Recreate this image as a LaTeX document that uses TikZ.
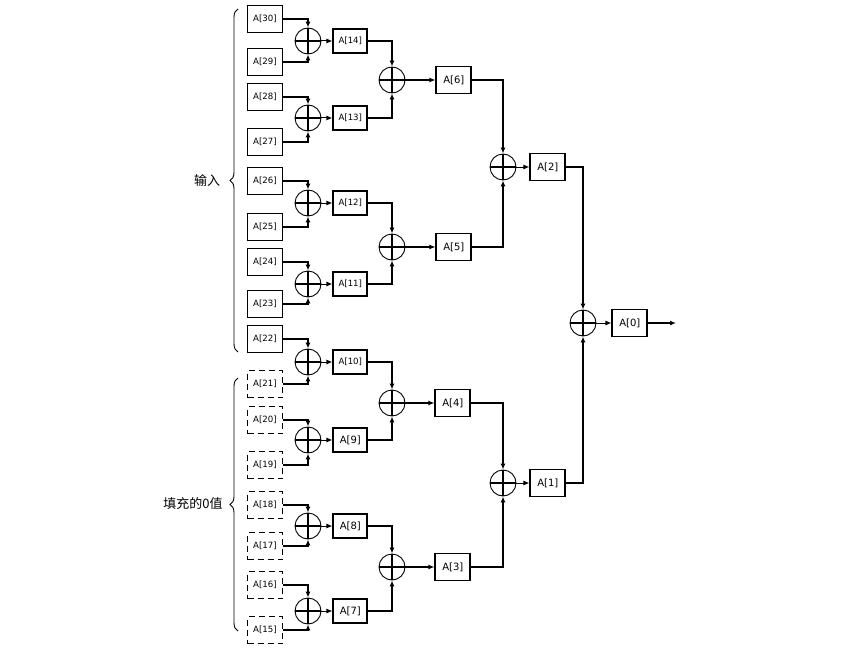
\documentclass[tikz,border=0pt]{standalone}
\usepackage{fontspec}
\setmainfont{DejaVu Sans}
\newfontfamily\cjk{Noto Sans CJK SC}
\usetikzlibrary{positioning,arrows.meta,decorations.pathreplacing}

\tikzset{
  box/.style={draw, line width=1.7pt, minimum width=35pt, minimum height=27pt, inner sep=0pt, font=\fontsize{8.6}{10}\selectfont},
  zerobox/.style={box, dash pattern=on 6pt off 4pt},
  midbox/.style={box, minimum width=34pt, minimum height=24pt},
  bigbox/.style={box, font=\fontsize{10}{12}\selectfont},
  midbigbox/.style={midbox, font=\fontsize{10}{12}\selectfont},
  adder/.style={circle, draw, line width=0.9pt, minimum size=26pt, inner sep=0pt,
    path picture={\draw[line width=1.4pt] (path picture bounding box.north) -- (path picture bounding box.south)
      (path picture bounding box.west) -- (path picture bounding box.east);}},
  conn/.style={line width=1.6pt, -{Latex[length=6pt,width=5pt]}},
  thinconn/.style={line width=1pt, -{Latex[length=6pt,width=5pt]}},
  brc/.style={decorate, decoration={brace, amplitude=8pt}, line width=0.9pt},
  lbl/.style={font=\cjk\fontsize{13}{15}\selectfont}
}

\begin{document}
\begin{tikzpicture}[x=1pt, y=-1pt]
  \useasboundingbox (0,0) rectangle (864,658);

  % Input boxes
  \node[box] (a30) at (265,19) {A[30]};
  \node[box] (a29) at (265,62) {A[29]};
  \node[box] (a28) at (265,97) {A[28]};
  \node[box] (a27) at (265,142) {A[27]};
  \node[box] (a26) at (265,181) {A[26]};
  \node[box] (a25) at (265,227) {A[25]};
  \node[box] (a24) at (265,262) {A[24]};
  \node[box] (a23) at (265,304) {A[23]};
  \node[box] (a22) at (265,339) {A[22]};

  % Padding boxes (zero values)
  \node[zerobox] (a21) at (265,384) {A[21]};
  \node[zerobox] (a20) at (265,420) {A[20]};
  \node[zerobox] (a19) at (265,465) {A[19]};
  \node[zerobox] (a18) at (265,505) {A[18]};
  \node[zerobox] (a17) at (265,546) {A[17]};
  \node[zerobox] (a16) at (265,585) {A[16]};
  \node[zerobox] (a15) at (265,630) {A[15]};

  % First level of adders
  \node[adder] (s14) at (308,41) {};
  \node[adder] (s13) at (308,118) {};
  \node[adder] (s12) at (308,203) {};
  \node[adder] (s11) at (308,284) {};
  \node[adder] (s10) at (308,362) {};
  \node[adder] (s9) at (308,440) {};
  \node[adder] (s8) at (308,526) {};
  \node[adder] (s7) at (308,611) {};

  \node[midbox, right=11pt of s14] (a14) {A[14]};
  \node[midbox, right=11pt of s13] (a13) {A[13]};
  \node[midbox, right=11pt of s12] (a12) {A[12]};
  \node[midbox, right=11pt of s11] (a11) {A[11]};
  \node[midbox, right=11pt of s10] (a10) {A[10]};
  \node[midbigbox, right=11pt of s9] (a9) {A[9]};
  \node[midbigbox, right=11pt of s8] (a8) {A[8]};
  \node[midbigbox, right=11pt of s7] (a7) {A[7]};

  % Second level of adders
  \node[adder] (s6) at (392,80) {};
  \node[adder] (s5) at (392,247) {};
  \node[adder] (s4) at (392,403) {};
  \node[adder] (s3) at (392,567) {};

  \node[bigbox, right=30pt of s6] (a6) {A[6]};
  \node[bigbox, right=30pt of s5] (a5) {A[5]};
  \node[bigbox, right=29pt of s4] (a4) {A[4]};
  \node[bigbox, right=29pt of s3] (a3) {A[3]};

  % Third and last level
  \node[adder] (s2) at (503,167) {};
  \node[adder] (s1) at (503,483) {};
  \node[bigbox, right=13pt of s2] (a2) {A[2]};
  \node[bigbox, right=13pt of s1] (a1) {A[1]};

  \node[adder] (s0) at (583,323) {};
  \node[bigbox, right=15pt of s0] (a0) {A[0]};
  \coordinate (out) at (676,323);

  % Inputs into the first adders
  \draw[conn] (a30.east) -| (s14.north);
  \draw[conn] (a29.east) -| (s14.south);
  \draw[conn] (a28.east) -| (s13.north);
  \draw[conn] (a27.east) -| (s13.south);
  \draw[conn] (a26.east) -| (s12.north);
  \draw[conn] (a25.east) -| (s12.south);
  \draw[conn] (a24.east) -| (s11.north);
  \draw[conn] (a23.east) -| (s11.south);
  \draw[conn] (a22.east) -| (s10.north);
  \draw[conn] (a21.east) -| (s10.south);
  \draw[conn] (a20.east) -| (s9.north);
  \draw[conn] (a19.east) -| (s9.south);
  \draw[conn] (a18.east) -| (s8.north);
  \draw[conn] (a17.east) -| (s8.south);
  \draw[conn] (a16.east) -| (s7.north);
  \draw[conn] (a15.east) -| (s7.south);

  \draw[thinconn] (s14) -- (a14);
  \draw[thinconn] (s13) -- (a13);
  \draw[thinconn] (s12) -- (a12);
  \draw[thinconn] (s11) -- (a11);
  \draw[thinconn] (s10) -- (a10);
  \draw[thinconn] (s9) -- (a9);
  \draw[thinconn] (s8) -- (a8);
  \draw[thinconn] (s7) -- (a7);

  % Second level
  \draw[conn] (a14.east) -| (s6.north);
  \draw[conn] (a13.east) -| (s6.south);
  \draw[conn] (a12.east) -| (s5.north);
  \draw[conn] (a11.east) -| (s5.south);
  \draw[conn] (a10.east) -| (s4.north);
  \draw[conn] (a9.east) -| (s4.south);
  \draw[conn] (a8.east) -| (s3.north);
  \draw[conn] (a7.east) -| (s3.south);

  \draw[conn] (s6) -- (a6);
  \draw[conn] (s5) -- (a5);
  \draw[conn] (s4) -- (a4);
  \draw[conn] (s3) -- (a3);

  % Third level
  \draw[conn] (a6.east) -| (s2.north);
  \draw[conn] (a5.east) -| (s2.south);
  \draw[conn] (a4.east) -| (s1.north);
  \draw[conn] (a3.east) -| (s1.south);
  \draw[thinconn] (s2) -- (a2);
  \draw[thinconn] (s1) -- (a1);

  % Final sum
  \draw[conn] (a2.east) -| (s0.north);
  \draw[conn] (a1.east) -| (s0.south);
  \draw[thinconn] (s0) -- (a0);
  \draw[conn] (a0) -- (out);

  % Braces and their labels
  \draw[brc] (238,352) -- (238,9);
  \draw[brc] (238,631) -- (238,378);
  \node[lbl] (inlbl) at (207,181) {输入};
  \node[lbl] (padlbl) at (193,504) {填充的0值};
\end{tikzpicture}
\end{document}
